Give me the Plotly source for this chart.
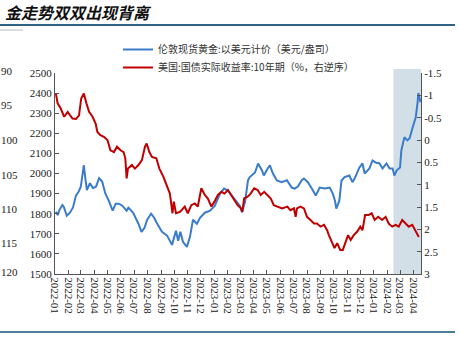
import plotly.graph_objects as go

# ---------------- data ----------------
gold_dates = [
    "2022-01-03", "2022-01-07", "2022-01-11", "2022-01-18", "2022-01-21", "2022-01-28",
    "2022-02-04", "2022-02-11", "2022-02-18", "2022-02-24", "2022-03-01", "2022-03-08",
    "2022-03-11", "2022-03-15", "2022-03-22", "2022-03-29", "2022-04-05", "2022-04-12",
    "2022-04-19", "2022-04-26", "2022-05-04", "2022-05-13", "2022-05-20", "2022-05-27",
    "2022-06-04", "2022-06-14", "2022-06-18", "2022-06-29", "2022-07-11", "2022-07-18",
    "2022-07-25", "2022-07-31", "2022-08-09", "2022-08-16", "2022-08-23", "2022-09-03",
    "2022-09-15", "2022-09-26", "2022-10-05", "2022-10-10", "2022-10-15", "2022-10-21",
    "2022-10-30", "2022-11-06", "2022-11-13", "2022-11-22", "2022-11-29", "2022-12-10",
    "2022-12-22", "2023-01-02", "2023-01-14", "2023-01-23", "2023-02-01", "2023-02-10",
    "2023-02-21", "2023-02-28", "2023-03-05", "2023-03-12", "2023-03-19", "2023-03-23",
    "2023-04-04", "2023-04-11", "2023-04-20", "2023-04-24", "2023-05-03", "2023-05-08",
    "2023-05-15", "2023-05-24", "2023-06-04", "2023-06-16", "2023-06-27", "2023-07-04",
    "2023-07-11", "2023-07-20", "2023-07-25", "2023-08-03", "2023-08-12", "2023-08-21",
    "2023-08-30", "2023-09-11", "2023-09-22", "2023-09-29", "2023-10-04", "2023-10-07",
    "2023-10-14", "2023-10-19", "2023-10-26", "2023-11-06", "2023-11-13", "2023-11-18",
    "2023-11-29", "2023-12-06", "2023-12-11", "2023-12-22", "2023-12-29", "2024-01-05",
    "2024-01-14", "2024-01-21", "2024-01-30", "2024-02-06", "2024-02-13", "2024-02-17",
    "2024-02-22", "2024-03-01", "2024-03-04", "2024-03-11", "2024-03-18", "2024-03-23",
    "2024-03-30", "2024-04-06", "2024-04-10", "2024-04-12", "2024-04-17",
]
gold_values = [
    1810, 1793, 1818, 1843, 1835, 1790,
    1805, 1830, 1890, 1909, 1934, 2041,
    1985, 1917, 1952, 1927, 1935, 1977,
    1960, 1902, 1865, 1815, 1850, 1850,
    1840, 1815, 1830, 1805, 1750, 1710,
    1730, 1770, 1800, 1780, 1750, 1710,
    1690, 1645, 1715, 1665, 1710, 1660,
    1635, 1685, 1770, 1750, 1780, 1805,
    1815, 1840, 1900, 1925, 1915, 1890,
    1855, 1840, 1808, 1858, 1967, 1982,
    2005, 2050, 2015, 1990, 2025, 2040,
    2000, 1965, 1957, 1967, 1930, 1925,
    1935, 1967, 1975, 1957, 1925, 1890,
    1930, 1925, 1930, 1900, 1865, 1825,
    1865, 1965, 1982, 1990, 1957, 1975,
    2030, 2050, 2000, 2025, 2065, 2055,
    2050, 2025, 2050, 2025, 2025, 1990,
    2015, 2030, 2115, 2180, 2165, 2175,
    2230, 2280, 2350, 2400, 2355,
]

tips_dates = [
    "2022-01-03", "2022-01-07", "2022-01-14", "2022-01-22", "2022-01-30", "2022-02-10",
    "2022-02-18", "2022-02-25", "2022-03-02", "2022-03-08", "2022-03-14", "2022-03-20",
    "2022-03-28", "2022-04-04", "2022-04-08", "2022-04-15", "2022-04-23", "2022-05-01",
    "2022-05-08", "2022-05-16", "2022-05-23", "2022-05-31", "2022-06-07", "2022-06-11",
    "2022-06-14", "2022-06-17", "2022-06-26", "2022-07-03", "2022-07-11", "2022-07-19",
    "2022-07-26", "2022-07-30", "2022-08-05", "2022-08-11", "2022-08-21", "2022-08-28",
    "2022-09-06", "2022-09-15", "2022-09-21", "2022-09-27", "2022-09-30", "2022-10-05",
    "2022-10-14", "2022-10-17", "2022-10-25", "2022-11-01", "2022-11-09", "2022-11-17",
    "2022-11-24", "2022-12-02", "2022-12-10", "2022-12-17", "2022-12-25", "2023-01-01",
    "2023-01-09", "2023-01-17", "2023-01-24", "2023-02-01", "2023-02-08", "2023-02-16",
    "2023-02-23", "2023-03-03", "2023-03-06", "2023-03-10", "2023-03-18", "2023-03-25",
    "2023-04-02", "2023-04-10", "2023-04-17", "2023-04-25", "2023-05-02", "2023-05-10",
    "2023-05-17", "2023-05-25", "2023-06-05", "2023-06-17", "2023-06-24", "2023-07-02",
    "2023-07-06", "2023-07-09", "2023-07-17", "2023-07-25", "2023-08-01", "2023-08-09",
    "2023-08-17", "2023-08-24", "2023-09-01", "2023-09-09", "2023-09-16", "2023-09-20",
    "2023-09-28", "2023-10-03", "2023-10-09", "2023-10-16", "2023-10-22", "2023-10-28",
    "2023-11-03", "2023-11-09", "2023-11-16", "2023-11-24", "2023-12-01", "2023-12-06",
    "2023-12-12", "2023-12-20", "2023-12-27", "2024-01-03", "2024-01-11", "2024-01-20",
    "2024-01-28", "2024-02-04", "2024-02-12", "2024-02-20", "2024-02-27", "2024-03-06",
    "2024-03-14", "2024-03-21", "2024-03-29", "2024-04-05", "2024-04-13",
]
tips_values = [
    -1.04, -0.82, -0.71, -0.52, -0.63, -0.48,
    -0.47, -0.55, -0.93, -1.04, -0.82, -0.63,
    -0.52, -0.37, -0.18, -0.11, -0.07, 0.00,
    0.23, 0.27, 0.15, 0.23, 0.27, 0.41,
    0.86, 0.64, 0.56, 0.64, 0.56, 0.45,
    0.15, 0.08, 0.27, 0.38, 0.41, 0.64,
    0.82, 1.05, 1.20, 1.64, 1.38, 1.64,
    1.61, 1.58, 1.49, 1.64, 1.46, 1.42,
    1.49, 1.08, 1.23, 1.31, 1.49, 1.38,
    1.23, 1.16, 1.20, 1.12, 1.23, 1.38,
    1.46, 1.53, 1.61, 1.31, 1.27, 1.20,
    1.08, 1.12, 1.23, 1.16, 1.23, 1.31,
    1.46, 1.49, 1.53, 1.49, 1.57, 1.53,
    1.72, 1.53, 1.49, 1.53, 1.72, 1.79,
    1.87, 1.87, 1.94, 1.90, 2.02, 2.13,
    2.31, 2.42, 2.31, 2.46, 2.46, 2.31,
    2.13, 2.24, 2.13, 2.05, 1.94, 2.02,
    1.68, 1.68, 1.64, 1.79, 1.72, 1.79,
    1.72, 1.87, 1.94, 1.90, 1.94, 1.79,
    1.87, 1.94, 1.90, 2.02, 2.17,
]

gold_name = "伦敦现货黄金:以美元计价（美元/盎司）"
tips_name = "美国:国债实际收益率:10年期（%，右逆序）"
title_text = "金走势双双出现背离"

left_ticks = [1500, 1600, 1700, 1800, 1900, 2000, 2100, 2200, 2300, 2400, 2500]
right_tickvals = [-1.5, -1, -0.5, 0, 0.5, 1, 1.5, 2, 2.5, 3]
right_ticktext = ["-1.5", "-1", "-0.5", "0", "0.5", "1", "1.5", "2", "2.5", "3"]
side_labels = ["90", "95", "100", "105", "110", "115", "120"]

x_range = ["2022-01-01", "2024-04-18"]
shade_range = ["2024-02-15", "2024-04-18"]

# ---------------- figure ----------------
W, H = 459, 356
ml, mr, mt, mb = 55, 38, 73, 82
pw, ph = W - ml - mr, H - mt - mb


def px_x(x):
    return (x - ml) / pw


def px_y(y):
    return (H - mb - y) / ph


serif = "Liberation Serif"
cjk = "Noto Sans CJK SC"

fig = go.Figure()
fig.add_trace(go.Scatter(
    x=gold_dates, y=gold_values, name=gold_name, mode="lines",
    line=dict(color="#3A7CCB", width=2), yaxis="y", legend="legend"))
fig.add_trace(go.Scatter(
    x=tips_dates, y=tips_values, name=tips_name, mode="lines",
    line=dict(color="#C00000", width=2), yaxis="y2", legend="legend2"))

axis_color = "#555555"
tick_font = dict(family=serif, size=11, color="#222222")
legend_common = dict(
    xref="container", yref="container", xanchor="left", yanchor="top",
    font=dict(family=cjk, size=10, color="#333333"),
    bgcolor="rgba(0,0,0,0)", itemwidth=30,
)
fig.update_layout(
    width=W, height=H,
    margin=dict(l=ml, r=mr, t=mt, b=mb, pad=0, autoexpand=False),
    paper_bgcolor="white", plot_bgcolor="white",
    showlegend=True,
    legend=dict(x=118 / W, y=1 - 35 / H, **legend_common),
    legend2=dict(x=118 / W, y=1 - 53 / H, **legend_common),
    xaxis=dict(
        type="date", range=x_range, dtick="M1", tick0="2022-01-01",
        tickformat="%Y-%m", tickangle=90, automargin=False,
        ticks="inside", ticklen=4, tickcolor=axis_color,
        showline=True, linecolor=axis_color, linewidth=1,
        showgrid=False, zeroline=False,
        tickfont=tick_font,
    ),
    yaxis=dict(
        range=[1500, 2500], tickvals=left_ticks, automargin=False,
        ticks="inside", ticklen=4, tickcolor=axis_color,
        showline=True, linecolor=axis_color, linewidth=1,
        showgrid=False, zeroline=False,
        tickfont=tick_font,
    ),
    yaxis2=dict(
        range=[3, -1.5], overlaying="y", side="right", automargin=False,
        tickvals=right_tickvals, ticktext=right_ticktext,
        ticks="inside", ticklen=4, tickcolor=axis_color,
        showline=True, linecolor=axis_color, linewidth=1,
        showgrid=False, zeroline=False,
        tickfont=tick_font,
    ),
)

# shaded period
fig.add_shape(type="rect", xref="x", yref="paper",
              x0=shade_range[0], x1=shade_range[1], y0=0, y1=px_y(69),
              fillcolor="#D2DFE7", line=dict(width=0), layer="below")

# header / footer rules
fig.add_shape(type="line", xref="paper", yref="paper",
              x0=px_x(0), x1=px_x(455), y0=px_y(25), y1=px_y(25),
              line=dict(color="#2F6284", width=2))
fig.add_shape(type="line", xref="paper", yref="paper",
              x0=px_x(0), x1=px_x(23), y0=px_y(30), y1=px_y(30),
              line=dict(color="#BBBBBB", width=1))
fig.add_shape(type="line", xref="paper", yref="paper",
              x0=px_x(0), x1=px_x(455), y0=px_y(332), y1=px_y(332),
              line=dict(color="#4C7E9C", width=2))

# title
fig.add_annotation(text=title_text, xref="paper", yref="paper",
                   x=px_x(3), y=px_y(12), xanchor="left", yanchor="middle",
                   showarrow=False,
                   font=dict(family=cjk, size=16, color="#111111",
                             weight="bold", style="italic"))

# partial labels of the neighbouring chart on the left edge
side_y = [71, 105, 140, 175, 209, 243, 272]
for lab, yy in zip(side_labels, side_y):
    fig.add_annotation(text=lab, xref="paper", yref="paper",
                       x=px_x(-1), y=px_y(yy), xanchor="left", yanchor="middle",
                       showarrow=False,
                       font=dict(family=serif, size=11, color="#222222"))

fig.write_html(
    "out.html",
    config=dict(displayModeBar=False),
    post_script="document.body.style.margin='0';document.body.style.padding='0';",
)
